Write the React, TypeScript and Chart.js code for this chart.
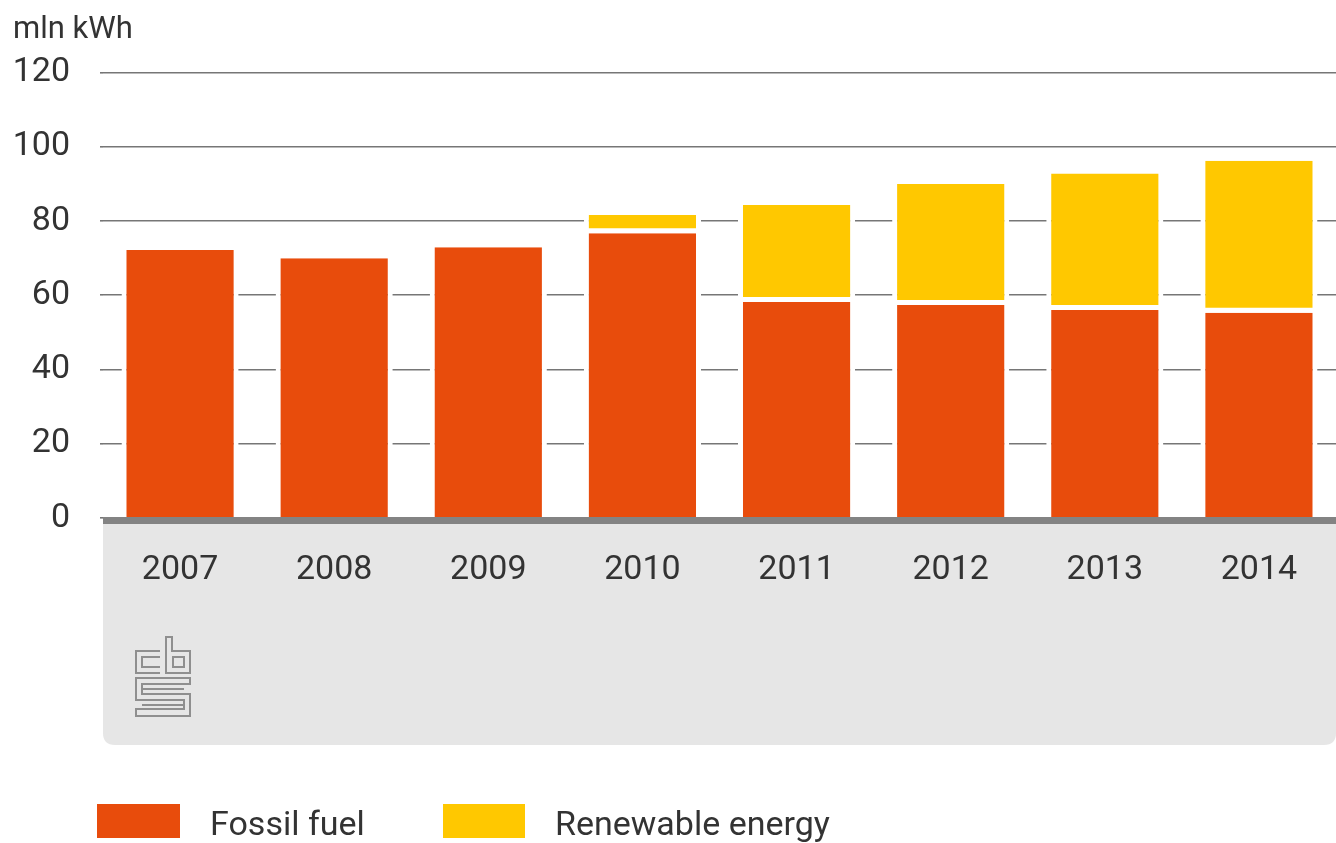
import React, { useEffect, useRef } from "react";
import { Chart, registerables } from "chart.js";

Chart.register(...registerables);

const years = ["2007", "2008", "2009", "2010", "2011", "2012", "2013", "2014"];
const fossilFuel = [72.2, 70.0, 72.9, 76.7, 58.2, 57.4, 56.0, 55.3];
const renewableEnergy = [null, null, null, 4.9, 26.1, 32.6, 36.8, 40.9];
const yTicks = [0, 20, 40, 60, 80, 100, 120];
const unitLabel = "mln kWh";
const fossilLabel = "Fossil fuel";
const renewableLabel = "Renewable energy";

const ORANGE = "#e84c0c";
const YELLOW = "#ffc800";
const TEXT = "#333333";
const FONT = "Roboto";

const panelPlugin = {
  id: "panelPlugin",
  beforeDraw(chart: any) {
    const { ctx, chartArea } = chart;
    const x0 = chartArea.left;
    const x1 = chart.width;
    const y0 = chartArea.bottom;
    const y1 = y0 + 227;
    const r = 12;
    ctx.save();
    ctx.fillStyle = "#e6e6e6";
    ctx.beginPath();
    ctx.moveTo(x0, y0);
    ctx.lineTo(x1, y0);
    ctx.lineTo(x1, y1 - r);
    ctx.quadraticCurveTo(x1, y1, x1 - r, y1);
    ctx.lineTo(x0 + r, y1);
    ctx.quadraticCurveTo(x0, y1, x0, y1 - r);
    ctx.closePath();
    ctx.fill();

    // CBS logo (approximation)
    const lx = x0 + 33;
    const ly = y0 + 119;
    ctx.strokeStyle = "#8f8f8f";
    ctx.lineWidth = 2;
    const poly = (pts: number[][], close = false) => {
      ctx.beginPath();
      ctx.moveTo(lx + pts[0][0], ly + pts[0][1]);
      for (let i = 1; i < pts.length; i++) ctx.lineTo(lx + pts[i][0], ly + pts[i][1]);
      if (close) ctx.closePath();
      ctx.stroke();
    };
    // c
    poly([[24, 14], [0, 14], [0, 36], [24, 36]]);
    poly([[24, 20], [6, 20], [6, 30], [24, 30]]);
    // b
    poly([[30, 0], [30, 36], [54, 36], [54, 14], [36, 14], [36, 0]], true);
    poly([[37, 20], [48, 20], [48, 30], [37, 30]], true);
    // S
    poly([[54, 41], [0, 41], [0, 63], [48, 63], [48, 72], [0, 72], [0, 79], [54, 79], [54, 57], [6, 57], [6, 47], [54, 47]], true);
    poly([[6, 68], [48, 68]]);
    poly([[6, 52], [48, 52]]);
    ctx.restore();
  },
  afterDatasetsDraw(chart: any) {
    const { ctx, chartArea } = chart;
    const yZero = chart.scales.y.getPixelForValue(0);
    ctx.save();
    ctx.fillStyle = "#838383";
    ctx.fillRect(chartArea.left, yZero - 1, chart.width - chartArea.left, 7);
    ctx.restore();
  },
};

export default function App() {
  const canvasRef = useRef<HTMLCanvasElement | null>(null);

  useEffect(() => {
    document.body.style.margin = "0";
    const canvas = canvasRef.current;
    if (!canvas) return;
    const chart = new Chart(canvas, {
      type: "bar",
      data: {
        labels: years,
        datasets: [
          {
            label: fossilLabel,
            data: fossilFuel,
            backgroundColor: ORANGE,
            borderColor: "#ffffff",
            borderWidth: { top: 0, left: 5, right: 5, bottom: 0 },
            borderSkipped: false,
            barPercentage: 0.76,
            categoryPercentage: 1,
            inflateAmount: 0,
          } as any,
          {
            label: renewableLabel,
            data: renewableEnergy,
            backgroundColor: YELLOW,
            borderColor: "#ffffff",
            borderWidth: { top: 0, left: 5, right: 5, bottom: 5 },
            borderSkipped: false,
            barPercentage: 0.76,
            categoryPercentage: 1,
            inflateAmount: 0,
          } as any,
        ],
      },
      options: {
        animation: false,
        responsive: false,
        maintainAspectRatio: false,
        devicePixelRatio: 1,
        layout: { padding: { top: 72.5, left: 0, right: 0, bottom: 100 } },
        plugins: {
          legend: { display: false },
          tooltip: { enabled: false },
          title: { display: false },
        },
        scales: {
          x: {
            stacked: true,
            grid: { display: false, drawTicks: false },
            border: { display: false },
            ticks: {
              color: TEXT,
              font: { family: FONT, size: 34 },
              padding: 32,
              maxRotation: 0,
            },
            afterFit(scale: any) {
              scale.height = 843 - 100 - 518;
            },
          },
          y: {
            stacked: true,
            min: 0,
            max: 120,
            afterBuildTicks(scale: any) {
              scale.ticks = yTicks.map((v) => ({ value: v }));
            },
            grid: {
              color: "#767676",
              lineWidth: 1.6,
              drawTicks: true,
              tickLength: 3,
            },
            border: { display: false },
            ticks: {
              color: TEXT,
              font: { family: FONT, size: 34 },
              padding: 30,
            },
            afterFit(scale: any) {
              scale.width = 103;
            },
          },
        },
      },
      plugins: [panelPlugin],
    });
    return () => chart.destroy();
  }, []);

  const textStyle: React.CSSProperties = {
    position: "absolute",
    fontFamily: FONT,
    color: TEXT,
    lineHeight: 1,
    whiteSpace: "nowrap",
  };

  return (
    <div style={{ position: "relative", width: 1336, height: 843, overflow: "hidden", background: "#fff" }}>
      <canvas ref={canvasRef} width={1336} height={843} style={{ position: "absolute", left: 0, top: 0, width: 1336, height: 843 }} />
      <div style={{ ...textStyle, left: 13, top: 12, fontSize: 31 }}>{unitLabel}</div>
      <div style={{ position: "absolute", left: 97, top: 804, width: 83, height: 34, background: ORANGE }} />
      <div style={{ ...textStyle, left: 210, top: 806, fontSize: 34 }}>{fossilLabel}</div>
      <div style={{ position: "absolute", left: 443, top: 804, width: 82, height: 34, background: YELLOW }} />
      <div style={{ ...textStyle, left: 555, top: 806, fontSize: 34 }}>{renewableLabel}</div>
    </div>
  );
}
